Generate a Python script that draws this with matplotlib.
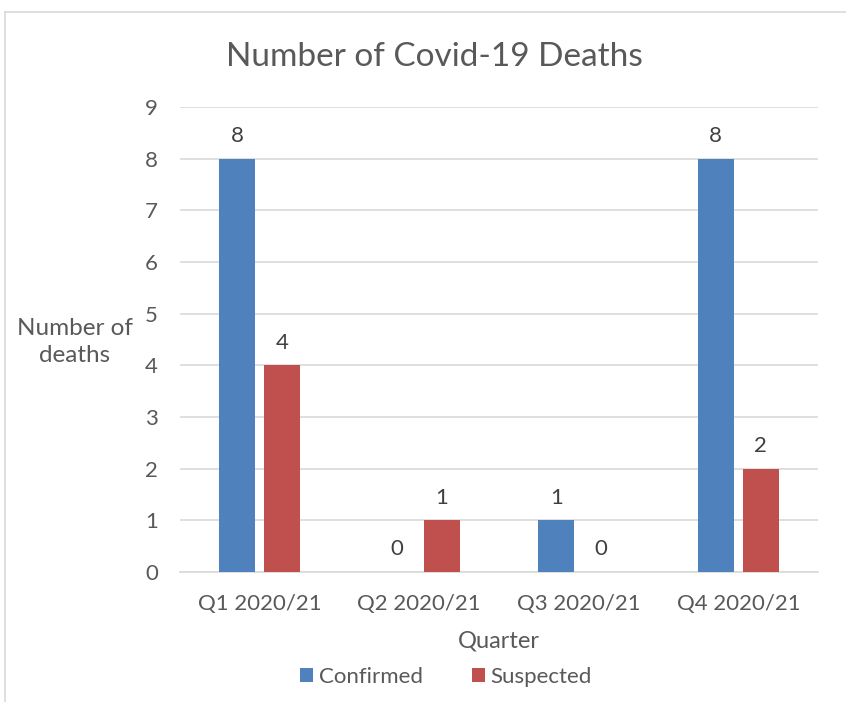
import numpy as np
import matplotlib.pyplot as plt

quarters = ['Q1 2020/21', 'Q2 2020/21', 'Q3 2020/21', 'Q4 2020/21']
confirmed = [8, 0, 1, 8]
suspected = [4, 1, 0, 2]
series_names = ['Confirmed', 'Suspected']

plt.rcParams['font.family'] = ['Lato', 'DejaVu Sans']
text_col = '#595959'
blue = '#4F81BD'
red = '#C0504D'

fig = plt.figure(figsize=(8.46, 7.02), dpi=100)
ax = fig.add_axes([0.2128, 0.1852, 0.7542, 0.6624])

x = np.arange(len(quarters))
w = 0.226
gap = 0.056
b1 = ax.bar(x - (w + gap) / 2, confirmed, w, color=blue, label=series_names[0], zorder=3)
b2 = ax.bar(x + (w + gap) / 2, suspected, w, color=red, label=series_names[1], zorder=3)

for bars in (b1, b2):
    for r in bars:
        ax.annotate(f'{int(r.get_height())}', (r.get_x() + r.get_width() / 2, r.get_height()),
                    xytext=(0, 9), textcoords='offset points', ha='center', va='bottom',
                    fontsize=16, color='#404040')

ax.set_xlim(-0.5, 3.5)
ax.set_ylim(0, 9)
ax.set_yticks(range(10))
ax.set_xticks(x)
ax.set_xticklabels(quarters)
ax.tick_params(length=0, labelsize=16, labelcolor=text_col)
ax.tick_params(axis='y', pad=16)
ax.tick_params(axis='x', pad=16)
ax.yaxis.grid(True, color='#D9D9D9', linewidth=1.2, zorder=0)
for s in ['top', 'right', 'left']:
    ax.spines[s].set_visible(False)
ax.spines['bottom'].set_color('#D9D9D9')
ax.spines['bottom'].set_linewidth(1.2)

ax.set_xlabel('Quarter', fontsize=17, color=text_col, labelpad=12)
fig.text(75 / 846, 1 - 342 / 702, 'Number of\ndeaths', ha='center', va='center',
         fontsize=17.5, color=text_col, linespacing=1.35)
fig.text(434 / 846, 1 - 57 / 702, 'Number of Covid-19 Deaths', ha='center', va='center',
         fontsize=24, color=text_col)

leg = fig.legend(handles=[b1, b2], loc='center', bbox_to_anchor=(446 / 846, 1 - 677 / 702),
                 ncol=2, frameon=False, fontsize=16, handlelength=0.6, handleheight=0.6,
                 handletextpad=0.25, columnspacing=2.2)
for t in leg.get_texts():
    t.set_color(text_col)

# chart border (cropped at right and bottom)
fig.add_artist(plt.Line2D([5 / 846, 5 / 846], [0, 1 - 12 / 702], color='#D9D9D9', lw=1.2))
fig.add_artist(plt.Line2D([5 / 846, 1], [1 - 12 / 702, 1 - 12 / 702], color='#D9D9D9', lw=1.2))

fig.savefig('out.png', dpi=100)
